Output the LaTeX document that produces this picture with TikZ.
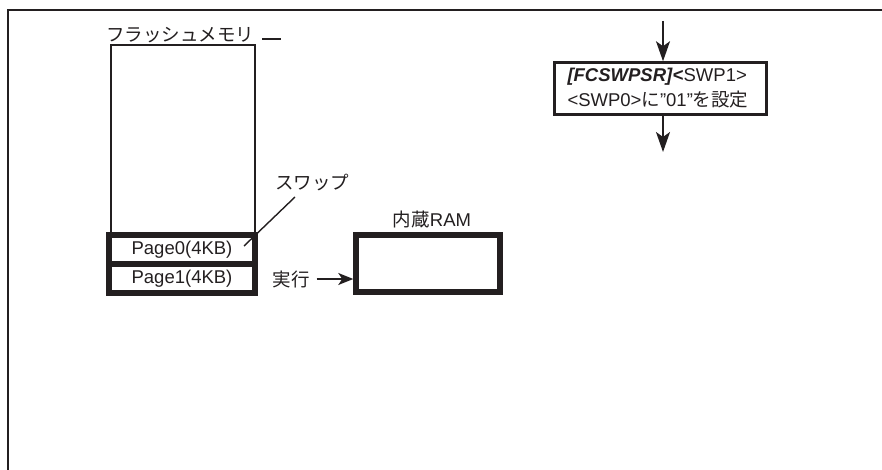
\documentclass[tikz,border=0pt]{standalone}
\usepackage{fontspec}
\setmainfont{Liberation Sans}
\newfontfamily\jp{Noto Sans CJK JP}
\usetikzlibrary{arrows.meta}
\definecolor{ink}{RGB}{35,31,32}
\begin{document}
\begin{tikzpicture}[x=1pt,y=-1pt,
  every node/.style={font=\fontsize{18.5}{25}\selectfont,text=ink},
  jlab/.style={font=\jp\fontsize{18.5}{22}\selectfont,inner sep=3pt},
  page/.style={draw=ink,line width=6pt,minimum width=146pt,minimum height=29pt,inner sep=0pt},
  flowarr/.style={draw=ink,line width=1.5pt,-{Stealth[length=20pt,width=14pt,inset=5pt]}}]
\useasboundingbox (0,0) rectangle (882,470);
\coordinate (frameTL) at (8,10);
\coordinate (frameTR) at (882,10);
\coordinate (frameBL) at (8,470);
\coordinate (dashL) at (262,39);
\coordinate (dashR) at (281,39);
\coordinate (swapA) at (244,246);
\coordinate (swapB) at (295,197);
\coordinate (inTop) at (663,21);
\coordinate (outEnd) at (663,152);

\draw[ink,line width=2pt] (frameTR) -- (frameTL) -- (frameBL);

\node[jlab] (flashlbl) at (180,35) {フラッシュメモリ};
\draw[ink,line width=1.4pt] (dashL) -- (dashR);
\node[draw=ink,line width=1.5pt,minimum width=144pt,minimum height=190pt] (flash) at (183,140) {};
\node[page] (page0) at (182,249.5) {Page0(4KB)};
\node[page] (page1) at (182,278.5) {Page1(4KB)};

\node[jlab] (swaplbl) at (312,183) {スワップ};
\draw[ink,line width=1.4pt] (swapA) -- (swapB);

\node[jlab] (exelbl) at (291,279) {実行};
\node[draw=ink,line width=5.5pt,minimum width=144pt,minimum height=57pt] (ram) at (428,263.5) {};
\node[font=\fontsize{18.5}{22}\selectfont] (ramlbl) at (432,219) {{\jp 内蔵}RAM};
\draw[ink,line width=1.8pt,-{Stealth[length=15pt,width=12pt,inset=4pt]},shorten <=4pt] (exelbl.east) -- (exelbl.east -| ram.west);

\node[draw=ink,line width=2.5pt,minimum width=212pt,minimum height=52pt,text width=186pt,align=left,inner sep=0pt] (setbox) at (660.5,88.5)
  {\textbf{\textit{[FCSWPSR]}<}SWP1>\\<SWP0>{\jp に}”01”{\jp を設定}};
\draw[flowarr] (inTop) -- (inTop |- setbox.north);
\draw[flowarr] (outEnd |- setbox.south) -- (outEnd);
\end{tikzpicture}
\end{document}
